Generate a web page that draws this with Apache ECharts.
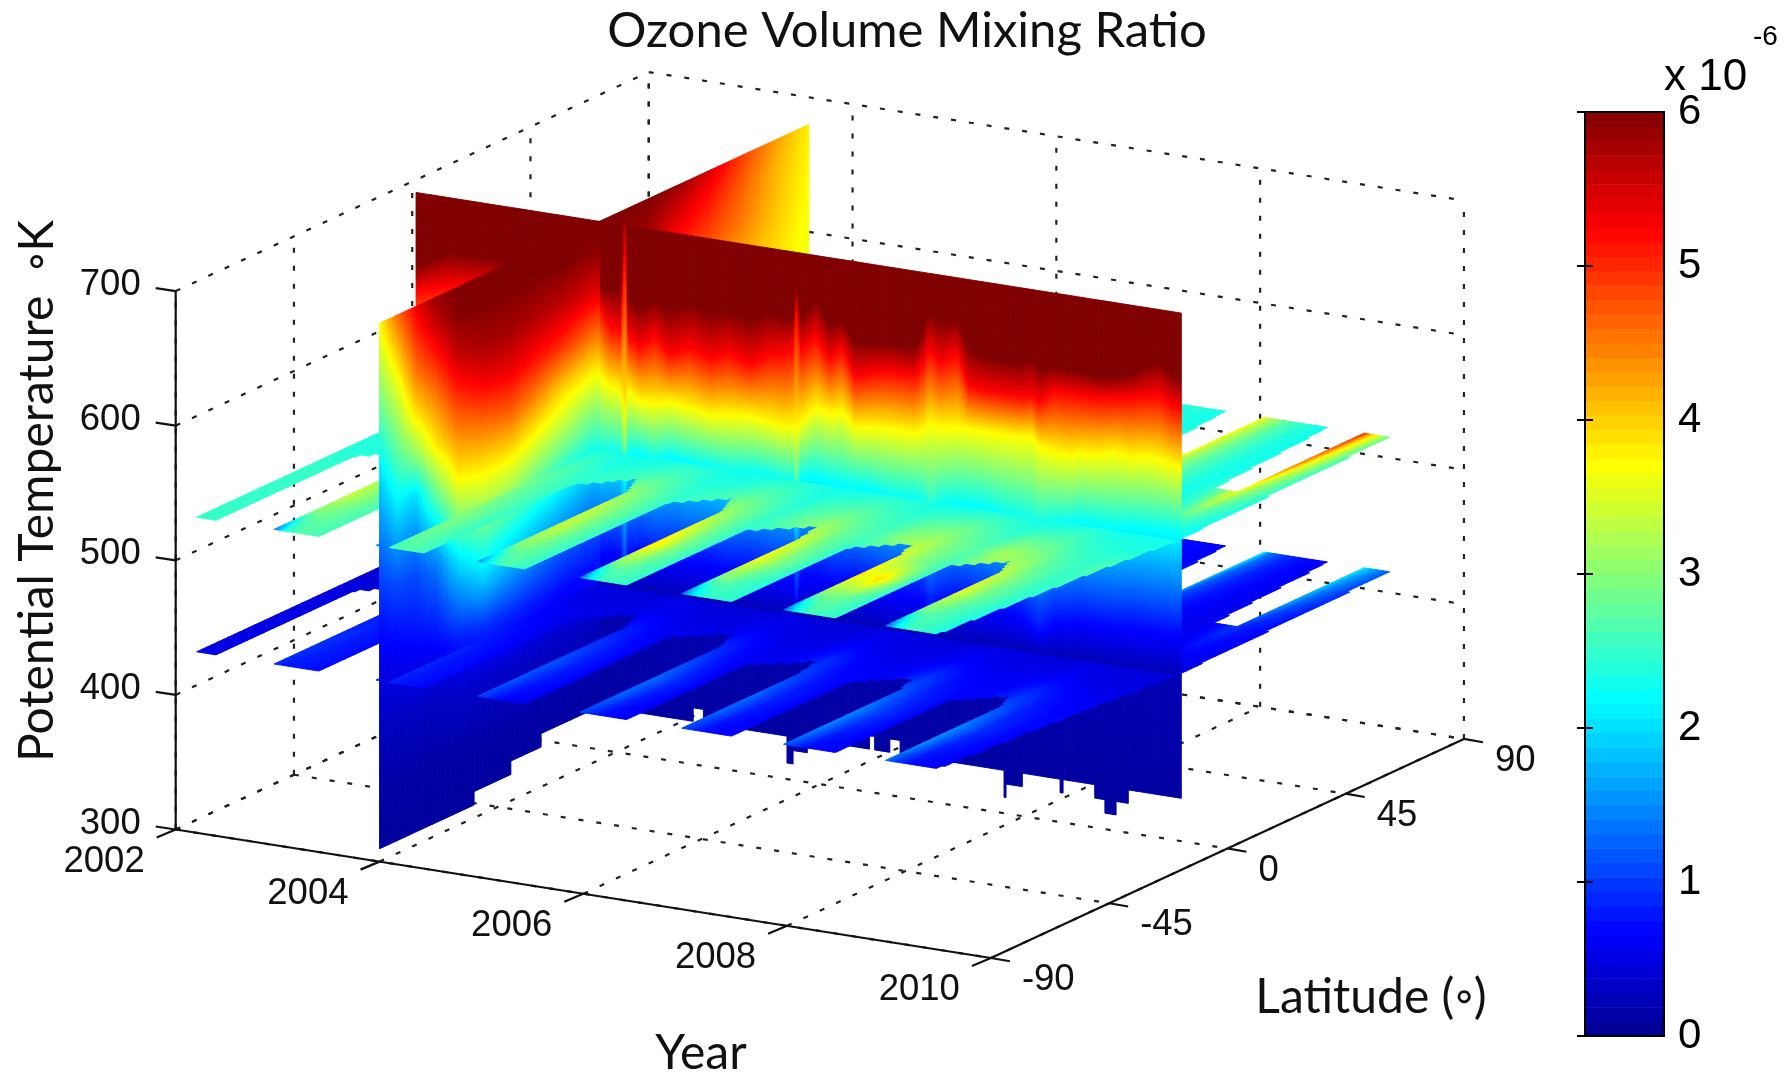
<!DOCTYPE html>
<html><head><meta charset="utf-8">
<style>html,body{margin:0;padding:0;background:#fff}#c{width:1789px;height:1075px}</style>
<script src="https://cdn.jsdelivr.net/npm/echarts@6/dist/echarts.min.js"></script>
</head><body><div id="c"></div>
<script>
// ---------- tick labels ----------
const yearTicks = [2002, 2004, 2006, 2008, 2010];
const latTicks = [-90, -45, 0, 45, 90];
const tempTicks = [300, 400, 500, 600, 700];
const colorbarLevels = 64;

// ---------- slice positions ----------
const wallLat = -6.3;          // constant-latitude slice
const sliceYear = 2004;        // constant-year slice
const planeTemps = [430, 530]; // constant-temperature slices

// ---------- constant-latitude slice: height (K) of each ozone level, per year ----------
const wallYears = [2002.2,2002.53,2003.02,2003.61,2004,2004.1,2004.22,2004.25,2004.28,2004.4,2004.55,2004.69,2004.89,2005.09,2005.28,2005.48,2005.67,2005.82,2005.91,2005.94,2005.97,2006.13,2006.26,2006.39,2006.51,2006.66,2006.85,2007.1,2007.2,2007.24,2007.34,2007.52,2007.62,2007.78,2007.93,2008.13,2008.25,2008.32,2008.47,2008.61,2008.72,2008.91,2009.06,2009.21,2009.35,2009.5,2009.6,2009.71];
const wallAt075 = [455,455,455,455,455,458,458,425,458,462,460,462,460,462,460,462,460,460,460,435,462,466,464,464,466,464,462,462,460,452,460,464,464,462,460,460,452,448,458,460,462,462,462,464,464,464,464,464];
const wallAt225 = [530,530,530,530,527,530,530,510,532,534,530,535,533,532,530,532,532,530,530,510,535,538,536,535,535,535,532,532,530,520,530,535,535,535,532,530,528,525,530,532,535,535,535,537,538,538,538,538];
const wallAt375 = [575,580,585,585,586,580,578,555,578,572,572,575,573,570,572,574,572,570,572,570,575,588,585,588,578,580,581,581,585,590,588,590,590,590,590,590,592,585,583,582,585,586,590,588,590,590,588,586];
const wallAt525 = [628,635,640,640,638,625,622,700,620,612,622,610,618,612,618,612,622,625,630,665,628,640,625,635,615,620,623,623,635,645,635,644,622,620,620,620,622,618,628,628,628,628,630,632,635,637,632,630];
const wallAt600 = [645,660,660,655,650,652,650,740,648,640,648,642,650,645,648,645,652,650,652,680,650,668,650,655,640,642,643,643,660,672,665,669,650,645,644,644,650,642,645,645,645,643,645,648,655,662,655,650];
const wallBaseTemps = [300, 430];
const wallBaseValues = [0.06, 0.22];
// lowest valid level of the slice, between these years
const wallFloorYears = [2002.2,2004.92,2005.02,2005.84,2005.9,2006.04,2006.65,2006.7,2006.85,2006.95,2007.97,2007.99,2008.15,2008.52,2008.55,2008.86,2008.96,2009.07,2009.19,2009.71];
const wallFloorTemps = [339.5,349.5,339.5,319.5,329.5,339.5,349.5,339.5,349.5,339.5,319.5,329.5,339.5,329.5,339.5,329.5,319.5,329.5,339.5];

// ---------- constant-year slice: ozone per latitude (columns) and level ----------
const sliceLats = [-90,-83,-76,-68,-60,-50,-40,-30,-20,-10,0,12,24,36,48,60,73.4];
const sliceTemps = [700,680,650,620,590,560,530,500,470,440,400,350,310];
const sliceOzone = [
 [3.7,3.4,3.0,2.5,2.0,1.6,1.25,.95,.7,.5,.3,.12,.08],
 [4.6,4.2,3.6,3.1,2.6,2.1,1.6,1.1,.8,.55,.3,.12,.08],
 [5.3,5.0,4.5,3.85,3.05,2.0,1.5,1.1,.85,.6,.3,.12,.08],
 [5.9,5.6,5.0,4.4,3.85,3.0,2.1,1.4,1.0,.65,.3,.12,.08],
 [6,6,5.6,5,4.4,3.8,3.0,2.1,1.45,.85,.35,.12,.08],
 [6,6,5.8,5.3,4.6,3.9,3.2,2.5,1.8,.95,.35,.12,.08],
 [6,6,5.8,5.35,4.7,3.9,3.1,2.25,1.6,.9,.35,.12,.08],
 [6,6,5.7,5.15,4.4,3.6,2.75,2.0,1.4,.8,.3,.12,.08],
 [6,6,5.6,4.95,4.0,3.3,2.45,1.8,1.2,.7,.3,.12,.08],
 [6,5.95,5.45,4.65,3.8,3.0,2.25,1.6,1.1,.65,.28,.12,.08],
 [6,5.9,5.4,4.6,3.75,3.0,2.25,1.6,1.1,.65,.28,.12,.08],
 [6,5.85,5.45,4.7,3.8,3.0,2.3,1.6,1.1,.65,.28,.12,.08],
 [5.85,5.45,5.05,4.6,3.9,3.1,2.3,1.6,1.1,.65,.28,.12,.08],
 [5.45,5.15,4.8,4.4,3.9,3.1,2.3,1.6,1.1,.65,.28,.12,.08],
 [4.9,4.7,4.5,4.2,3.85,3.1,2.3,1.6,1.1,.65,.28,.12,.08],
 [4.35,4.2,4.1,3.95,3.8,3.1,2.3,1.6,1.1,.65,.28,.12,.08],
 [3.8,3.75,3.7,3.65,3.55,3.0,2.3,1.6,1.1,.65,.28,.12,.08]
];
const sliceFloorLats = [-90,-54,-40,-28.5,73.4];
const sliceFloorTemps = [309.5,319.5,329.5,339.5];

// ---------- constant-temperature slices, south of the wall ----------
const planeYears = [2002.11,2002.3,2002.6,
 2002.87,2002.97,2003.1,2003.33,2003.6, 2003.87,2003.97,2004.1,2004.34,2004.6,
 2004.87,2004.97,2005.1,2005.33,2005.6, 2005.87,2005.97,2006.1,2006.33,2006.6,
 2006.87,2006.97,2007.1,2007.36,2007.6, 2007.87,2007.97,2008.1,2008.36,2008.6,
 2008.87,2008.97,2009.1,2009.38,2009.66];
const southLats = [-86.3,-72,-58,-44,-30,-18,wallLat];
const upperSouth = [
 [2.5,2.5,2.5, 1.2,2.3,2.7,2.6,2.5, 1.3,2.4,2.7,2.6,2.5, 1.3,2.2,2.7,2.5,2.4, 1.2,2.1,2.6,2.5,2.4, 1.2,2.0,2.5,2.5,2.4, 1.1,2.1,2.6,2.5,2.4, 1.1,2.1,2.6,2.4,2.3],
 [2.5,2.5,2.5, 2.9,2.9,2.8,2.6,2.5, 2.6,2.8,2.8,2.5,2.4, 2.9,3.0,2.8,2.5,2.4, 3.0,3.1,2.8,2.5,2.4, 2.9,3.0,2.7,2.4,2.4, 3.0,3.0,2.9,2.5,2.4, 2.9,2.9,2.7,2.4,2.3],
 [2.5,2.5,2.5, 3.4,3.2,2.9,2.6,2.5, 3.0,3.0,2.9,2.5,2.4, 3.3,3.3,2.9,2.5,2.4, 3.9,3.6,3.0,2.5,2.4, 3.7,3.4,3.0,2.5,2.4, 3.9,3.6,3.95,2.6,2.5, 3.6,3.3,2.9,2.5,2.4],
 [2.5,2.5,2.5, 3.2,3.1,2.9,2.6,2.5, 3.1,3.0,2.8,2.5,2.5, 3.4,3.2,2.9,2.5,2.5, 3.6,3.3,2.9,2.5,2.6, 3.5,3.3,2.9,2.5,2.7, 3.6,3.3,3.0,2.6,3.0, 3.4,3.2,2.9,2.5,2.6],
 [2.4,2.4,2.4, 3.0,3.0,2.8,2.5,2.6, 3.0,2.9,2.7,2.5,2.6, 3.1,3.0,2.8,2.5,2.7, 3.1,3.0,2.8,2.5,2.8, 3.1,3.0,2.8,2.6,3.0, 3.2,3.1,2.9,2.7,3.2, 3.0,2.9,2.7,2.5,2.8],
 [2.4,2.4,2.4, 2.7,2.7,2.6,2.5,2.6, 2.7,2.6,2.6,2.4,2.5, 2.7,2.7,2.6,2.4,2.5, 2.7,2.7,2.6,2.4,2.6, 2.7,2.7,2.6,2.5,2.7, 2.8,2.8,2.7,2.5,2.7, 2.7,2.6,2.5,2.4,2.4],
 [2.3,2.3,2.3, 2.4,2.4,2.4,2.3,2.3, 2.4,2.4,2.4,2.3,2.3, 2.4,2.4,2.4,2.3,2.3, 2.4,2.4,2.4,2.3,2.3, 2.4,2.4,2.4,2.3,2.3, 2.4,2.4,2.4,2.3,2.3, 2.4,2.4,2.3,2.3,2.3]
];
const lowerSouth = [
 [.5,.5,.5, .9,.8,.8,.7,.6, 1.0,.9,.8,.7,.6, 1.1,.9,.7,.6,.6, 1.1,.9,.7,.6,.6, 1.1,.9,.7,.6,.6, 1.2,1.0,.7,.6,.6, 1.3,1.0,.7,.6,.6],
 [.5,.5,.5, .95,.9,.8,.7,.6, 1.0,.95,.8,.7,.6, 1.2,1.0,.8,.65,.6, 1.3,1.1,.8,.65,.6, 1.3,1.1,.8,.65,.6, 1.5,1.2,.85,.65,.6, 1.6,1.2,.85,.65,.6],
 [.5,.5,.5, .9,.9,.8,.7,.6, .9,.9,.8,.65,.6, 1.2,1.05,.85,.65,.6, 1.3,1.15,.9,.65,.6, 1.3,1.1,.85,.65,.6, 1.5,1.25,1.0,.7,.6, 1.5,1.3,.95,.7,.6],
 [.5,.5,.5, .8,.8,.75,.65,.6, .8,.8,.75,.6,.6, 1.0,.95,.8,.6,.6, 1.1,1.0,.8,.6,.6, 1.1,1.0,.8,.65,.65, 1.2,1.1,.9,.7,.7, 1.2,1.1,.85,.7,.7],
 [.45,.45,.45, .7,.7,.65,.6,.55, .7,.7,.65,.55,.55, .8,.8,.7,.55,.6, .85,.8,.7,.55,.6, .9,.85,.7,.6,.6, .95,.9,.75,.65,.65, .9,.85,.75,.6,.6],
 [.4,.4,.4, .55,.55,.55,.5,.5, .55,.55,.55,.5,.5, .6,.6,.55,.5,.5, .6,.6,.55,.5,.5, .65,.6,.55,.5,.55, .65,.65,.6,.55,.55, .65,.6,.55,.5,.5],
 [.4,.4,.4, .45,.45,.45,.45,.45, .45,.45,.45,.45,.45, .5,.5,.45,.45,.45, .5,.5,.45,.45,.45, .5,.5,.5,.45,.45, .5,.5,.5,.45,.45, .5,.5,.45,.45,.45]
];

// ---------- constant-temperature slices, north of the wall ----------
const northYears = [2007.54,2007.75,2007.97,2008.35,2008.42,2008.6,2008.8,2008.97,2009.15,2009.33,2009.42,2009.58,2009.66];
const northLats = [wallLat,10,30,50,78];
const upperNorth = [
 [2.4,2.4,2.4,2.6,2.5,2.4,2.3,2.3,2.3,2.4,2.3,2.25,2.2],
 [2.5,2.4,2.4,3.0,2.8,2.6,2.4,2.3,2.4,2.8,2.6,2.4,2.25],
 [2.5,2.4,2.4,3.4,3.0,2.7,2.4,2.3,2.6,3.6,3.0,2.6,2.3],
 [2.4,2.3,2.3,3.75,3.2,2.7,2.4,2.3,2.3,4.5,3.5,2.7,2.4],
 [2.4,2.4,2.3,3.7,3.3,2.7,2.4,2.3,2.3,5.1,4.0,2.8,2.5]
];
const lowerNorth = [
 [.6,.55,.55,.65,.6,.6,.55,.55,.55,.6,.55,.5,.5],
 [.6,.6,.55,.8,.7,.65,.6,.55,.55,.7,.65,.6,.55],
 [.65,.6,.6,1.1,.85,.7,.6,.55,.65,1.0,.8,.7,.65],
 [.7,.65,.6,1.6,1.1,.8,.65,.6,.6,1.7,1.2,.9,.8],
 [.75,.7,.65,2.2,1.4,.9,.7,.6,.6,2.1,1.7,1.2,1.0]
];

// ---------- where the temperature slices have no data ----------
const southGapFrom = [2002.3,2003.31,2004.34,2005.33,2006.33,2007.36,2008.38];
const southGapTo = [2002.87,2003.87,2004.87,2005.87,2006.87,2007.87,2008.87];
const southGapCloseYear = [2002.7,2003.7,2004.73,2005.72,2006.8,2007.78,2008.77];
const southGapCloseLat = [-25,-25,-20.6,-23,-32,-33,-34.4];
const northGapFrom = [2007.97,2008.97];
const northGapFromAtClose = [2008.1,2009.1];
const northGapTo = [2008.35,2009.33];
const northGapCloseLat = [30,30];
const planeStartYear = 2002.11;
const planeEndLats = [-86.3,-58,-30,wallLat,78];
const planeEndYears = [2009.38,2009.46,2009.56,2009.66,2009.58];

// ---------- view of the 3-D box ----------
const VIEW = {x0:175.7, y0:829.5, yearX:101.9, yearY:16.06, latX:2.628, latY:-1.217, tempY:1.346};
function project(year, lat, temp){
  return [VIEW.x0 + (year-2002)*VIEW.yearX + (lat+90)*VIEW.latX,
          VIEW.y0 + (year-2002)*VIEW.yearY + (lat+90)*VIEW.latY - (temp-300)*VIEW.tempY];
}

// ---------- lookups ----------
function locate(xs, x){
  let i = 0;
  if (x <= xs[0]) return [0, 0];
  if (x >= xs[xs.length-1]) return [xs.length-2, 1];
  while (x > xs[i+1]) i++;
  return [i, (x-xs[i])/(xs[i+1]-xs[i])];
}
function line(xs, ys, x){ const [i,t] = locate(xs,x); return ys[i]*(1-t)+ys[i+1]*t; }
function table(rowsAxis, colsAxis, rows, r, c){
  const [i,t] = locate(rowsAxis,r), [j,u] = locate(colsAxis,c);
  return (rows[i][j]*(1-u)+rows[i][j+1]*u)*(1-t) + (rows[i+1][j]*(1-u)+rows[i+1][j+1]*u)*t;
}
function step(xs, ys, x){
  for (let i=0;i<ys.length;i++) if (x < xs[i+1]) return ys[i];
  return ys[ys.length-1];
}
function wallValue(year, temp){
  const h = [wallBaseTemps[0], wallBaseTemps[1], line(wallYears,wallAt075,year), line(wallYears,wallAt225,year),
             line(wallYears,wallAt375,year), line(wallYears,wallAt525,year), line(wallYears,wallAt600,year)];
  const v = [wallBaseValues[0], wallBaseValues[1], .75, 2.25, 3.75, 5.25, 6];
  return line(h, v, temp);
}
const sliceTempsUp = sliceTemps.slice().reverse();
const sliceRowsUp = sliceOzone.map(c => c.slice().reverse());
function sliceValue(lat, temp){ return table(sliceLats, sliceTempsUp, sliceRowsUp, lat, temp); }
function inGap(year, lat){
  if (lat > planeEndLats[4] || lat < planeEndLats[0] || year < planeStartYear) return true;
  if (year > line(planeEndLats, planeEndYears, lat)) return true;
  for (let k=0;k<southGapFrom.length;k++){
    const c = southGapCloseLat[k];
    if (lat < c){
      let lo = southGapFrom[k], hi = southGapTo[k];
      if (lat > c-9){ const t = (lat-(c-9))/9; lo += (southGapCloseYear[k]-lo)*t; hi += (southGapCloseYear[k]-hi)*t; }
      if (year > lo && year < hi) return true;
    }
  }
  for (let k=0;k<northGapFrom.length;k++){
    const c = northGapCloseLat[k];
    if (lat > c){
      const lo = northGapFromAtClose[k] + (northGapFrom[k]-northGapFromAtClose[k])*(lat-c)/(78-c);
      if (year > lo && year < northGapTo[k]) return true;
    }
  }
  return false;
}

// ---------- shading: split every slice into small facets ----------
function gridLines(from, to, size, must){
  const out = must.filter(v => v>=from && v<=to).concat([from,to]);
  for (let v=from; v<to; v+=size) if (!must.some(m => Math.abs(m-v) < size*0.3)) out.push(v);
  return Array.from(new Set(out)).sort((a,b)=>a-b);
}
const facets = [];
function region(v, planes){
  let r = 0;
  for (const p of planes){ if (v===p) return r+1; if (v>p) r+=2; else return r; }
  return r;
}
function addFacet(value, corners, year, lat, temp){
  const latR = 2 - region(lat,[wallLat]);
  const yearR = region(year,[sliceYear]);
  const tempR = region(temp,planeTemps);
  const pts = corners.map(c => project(c[0],c[1],c[2]));
  facets.push({key: latR*100 + yearR*10 + tempR, row: [Math.max(0,Math.min(6,value)),
    pts[0][0],pts[0][1],pts[1][0],pts[1][1],pts[2][0],pts[2][1],pts[3][0],pts[3][1]]});
}
const wallEndX = project(wallYears[wallYears.length-1], wallLat, 700)[0];
function wallTopAtX(x){ return line([project(wallYears[0],wallLat,700)[0],wallEndX],
   [project(wallYears[0],wallLat,700)[1],project(wallYears[wallYears.length-1],wallLat,700)[1]],x); }

// wall
{
  const ys = gridLines(wallYears[0], wallYears[wallYears.length-1], .03, wallYears.concat(wallFloorYears,[sliceYear]));
  const zLow = gridLines(309.5, 429.5, 5, [319.5,329.5,339.5,349.5]);
  const zHigh = gridLines(430, 700, 2.5, [430,530]);
  const zs = zLow.concat(zHigh);
  for (let i=0;i<ys.length-1;i++) for (let j=0;j<zs.length-1;j++){
    const y=(ys[i]+ys[i+1])/2, z=(zs[j]+zs[j+1])/2;
    if (z < step(wallFloorYears,wallFloorTemps,y)) continue;
    if (y < sliceYear && z < 600) continue; // behind the year slice
    addFacet(wallValue(y,z), [[ys[i],wallLat,zs[j]],[ys[i+1],wallLat,zs[j]],[ys[i+1],wallLat,zs[j+1]],[ys[i],wallLat,zs[j+1]]], y, wallLat, z);
  }
}
// year slice
{
  const ls = gridLines(sliceLats[0], sliceLats[sliceLats.length-1], 1.25, sliceFloorLats.concat([wallLat]));
  const zLow = gridLines(309.5, 429.5, 5, [319.5,329.5,339.5]);
  const zHigh = gridLines(430, 700, 2.5, [430,530]);
  const zs = zLow.concat(zHigh);
  for (let i=0;i<ls.length-1;i++) for (let j=0;j<zs.length-1;j++){
    const l=(ls[i]+ls[i+1])/2, z=(zs[j]+zs[j+1])/2;
    if (z < step(sliceFloorLats,sliceFloorTemps,l)) continue;
    if (l > wallLat){ const p = project(sliceYear,l,z); if (p[1] > wallTopAtX(p[0])+10) continue; }
    addFacet(sliceValue(l,z), [[sliceYear,ls[i],zs[j]],[sliceYear,ls[i+1],zs[j]],[sliceYear,ls[i+1],zs[j+1]],[sliceYear,ls[i],zs[j+1]]], sliceYear, l, z);
  }
}
// temperature slices
[[planeTemps[0],lowerSouth,lowerNorth],[planeTemps[1],upperSouth,upperNorth]].forEach(([temp,south,north]) => {
  const ys = gridLines(planeStartYear, planeYears[planeYears.length-1], .03,
     southGapFrom.concat(southGapTo,northGapTo,northGapFrom,[sliceYear]));
  const ls = gridLines(planeEndLats[0], planeEndLats[4], 2, [wallLat]);
  for (let i=0;i<ys.length-1;i++) for (let j=0;j<ls.length-1;j++){
    const y=(ys[i]+ys[i+1])/2, l=(ls[j]+ls[j+1])/2;
    if (inGap(y,l)) continue;
    const p = project(y,l,temp);
    if (l > wallLat && p[0] < wallEndX-4) continue;                       // behind the wall
    if (l < wallLat && y < sliceYear && p[0] > project(sliceYear,-90,temp)[0]+4) continue; // behind the year slice
    const v = l < wallLat ? table(southLats,planeYears,south,l,y) : table(northLats,northYears,north,l,y);
    addFacet(v, [[ys[i],ls[j],temp],[ys[i+1],ls[j],temp],[ys[i+1],ls[j+1],temp],[ys[i],ls[j+1],temp]], y, l, temp);
  }
});
facets.sort((a,b)=>a.key-b.key);
const facetRows = facets.map(f=>f.row);

// ---------- box: dotted grid, axes, ticks ----------
const gridRows = [];
function seg(list,a,b){ const p=project(a[0],a[1],a[2]), q=project(b[0],b[1],b[2]); list.push([p[0],p[1],q[0],q[1]]); }
const yMin=yearTicks[0], yMax=yearTicks[4], lMin=latTicks[0], lMax=latTicks[4], tMin=tempTicks[0], tMax=tempTicks[4];
yearTicks.forEach(y=>{ seg(gridRows,[y,lMin,tMin],[y,lMax,tMin]); seg(gridRows,[y,lMax,tMin],[y,lMax,tMax]); });
latTicks.forEach(l=>{ seg(gridRows,[yMin,l,tMin],[yMax,l,tMin]); seg(gridRows,[yMin,l,tMin],[yMin,l,tMax]); });
tempTicks.forEach(t=>{ seg(gridRows,[yMin,lMin,t],[yMin,lMax,t]); seg(gridRows,[yMin,lMax,t],[yMax,lMax,t]); });
const axisRows = [];
seg(axisRows,[yMin,lMin,tMin],[yMin,lMin,tMax]);
seg(axisRows,[yMin,lMin,tMin],[yMax,lMin,tMin]);
seg(axisRows,[yMax,lMin,tMin],[yMax,lMax,tMin]);
const TICK = {temp:[-20,-3], year:[-19,8], lat:[19,3.3]};
const labelRows = [], labelTexts = [], labelAligns = [];
tempTicks.forEach(t=>{ const p=project(yMin,lMin,t); axisRows.push([p[0],p[1],p[0]+TICK.temp[0],p[1]+TICK.temp[1]]);
  labelRows.push([p[0]-35,p[1]-6]); labelTexts.push(String(t)); labelAligns.push('right'); });
yearTicks.forEach(y=>{ const p=project(y,lMin,tMin); axisRows.push([p[0],p[1],p[0]+TICK.year[0],p[1]+TICK.year[1]]);
  labelRows.push([p[0]-31,p[1]+32]); labelTexts.push(String(y)); labelAligns.push('right'); });
latTicks.forEach(l=>{ const p=project(yMax,l,tMin); axisRows.push([p[0],p[1],p[0]+TICK.lat[0],p[1]+TICK.lat[1]]);
  labelRows.push([p[0]+31,p[1]+22]); labelTexts.push(String(l)); labelAligns.push('left'); });

// ---------- colour map (jet) ----------
const jetStops = [[0,0,0,143],[.111,0,0,255],[.365,0,255,255],[.619,255,255,0],[.873,255,0,0],[1,128,0,0]];
const jetColors = [];
for (let i=0;i<colorbarLevels;i++){
  const t=i/(colorbarLevels-1), k=locate(jetStops.map(s=>s[0]),t);
  const c=[1,2,3].map(n=>Math.round(jetStops[k[0]][n]*(1-k[1])+jetStops[k[0]+1][n]*k[1]));
  jetColors.push('rgb('+c.join(',')+')');
}
const barRows = [];
for (let i=0;i<colorbarLevels;i++) barRows.push([(i+.5)*6/colorbarLevels, i*6/colorbarLevels, (i+1)*6/colorbarLevels]);

const SANS = 'Lato', TICKFONT = '"Liberation Sans"';
const chart = echarts.init(document.getElementById('c'), null, {renderer:'canvas'});
const hiddenAxis = {show:false};
chart.setOption({
  animation:false,
  backgroundColor:'#fff',
  title:{text:'Ozone Volume Mixing Ratio', left:902, top:2, textAlign:'center',
    textStyle:{fontFamily:SANS, fontWeight:400, fontSize:49, color:'#111'}},
  grid:[
    {left:0, top:0, width:1789, height:1075, show:false},
    {left:1585, top:112, width:79, height:924, show:true, borderColor:'#000', borderWidth:2, backgroundColor:'transparent', z:5}
  ],
  xAxis:[
    Object.assign({type:'value',min:0,max:1789,gridIndex:0},hiddenAxis),
    Object.assign({type:'value',min:0,max:1,gridIndex:1},hiddenAxis)
  ],
  yAxis:[
    Object.assign({type:'value',min:0,max:1075,inverse:true,gridIndex:0},hiddenAxis),
    {type:'value',min:0,max:6,interval:1,gridIndex:1,position:'right',z:6,
      axisLine:{show:true,lineStyle:{color:'#000',width:2}},
      axisTick:{show:true,inside:true,length:8,lineStyle:{color:'#000',width:2}},
      splitLine:{show:false},
      axisLabel:{show:true,margin:14,color:'#000',fontFamily:TICKFONT,fontSize:42,padding:[5,0,0,0]}},
    {type:'value',min:0,max:6,interval:1,gridIndex:1,position:'left',z:6,
      axisLine:{show:true,lineStyle:{color:'#000',width:2}},
      axisTick:{show:true,inside:true,length:8,lineStyle:{color:'#000',width:2}},
      splitLine:{show:false},axisLabel:{show:false}}
  ],
  visualMap:[{type:'continuous',show:false,min:0,max:6,dimension:0,seriesIndex:[1,4],inRange:{color:jetColors}}],
  series:[
    {type:'custom',name:'grid',coordinateSystem:'cartesian2d',xAxisIndex:0,yAxisIndex:0,clip:false,silent:true,z:1,
      data:gridRows,encode:{x:[0,2],y:[1,3]},progressive:0,
      renderItem(p,api){const a=api.coord([api.value(0),api.value(1)]),b=api.coord([api.value(2),api.value(3)]);
        return {type:'line',shape:{x1:a[0],y1:a[1],x2:b[0],y2:b[1]},style:{stroke:'#222',lineWidth:2.2,lineDash:[5,13],fill:null}};}},
    {type:'custom',name:'Ozone',coordinateSystem:'cartesian2d',xAxisIndex:0,yAxisIndex:0,clip:false,silent:true,z:2,
      data:facetRows,encode:{x:1,y:2},progressive:0,large:false,
      renderItem(p,api){
        const pts=[1,3,5,7].map(i=>api.coord([api.value(i),api.value(i+1)]));
        const c=api.visual('color');
        return {type:'polygon',shape:{points:pts},style:{fill:c,stroke:c,lineWidth:.9}};
      }},
    {type:'custom',name:'axes',coordinateSystem:'cartesian2d',xAxisIndex:0,yAxisIndex:0,clip:false,silent:true,z:3,
      data:axisRows,encode:{x:[0,2],y:[1,3]},progressive:0,
      renderItem(p,api){const a=api.coord([api.value(0),api.value(1)]),b=api.coord([api.value(2),api.value(3)]);
        return {type:'line',shape:{x1:a[0],y1:a[1],x2:b[0],y2:b[1]},style:{stroke:'#111',lineWidth:2.2,fill:null}};}},
    {type:'custom',name:'tick labels',coordinateSystem:'cartesian2d',xAxisIndex:0,yAxisIndex:0,clip:false,silent:true,z:3,
      data:labelRows,encode:{x:0,y:1},progressive:0,
      renderItem(p,api){const a=api.coord([api.value(0),api.value(1)]);
        return {type:'text',x:a[0],y:a[1],style:{text:labelTexts[p.dataIndex],align:labelAligns[p.dataIndex],verticalAlign:'middle',
          fontFamily:TICKFONT,fontSize:36.5,fill:'#111'}};}},
    {type:'custom',name:'colorbar',coordinateSystem:'cartesian2d',xAxisIndex:1,yAxisIndex:1,clip:false,silent:true,z:4,
      data:barRows,encode:{y:[1,2]},progressive:0,
      renderItem(p,api){const a=api.coord([0,api.value(2)]),b=api.coord([1,api.value(1)]);
        return {type:'rect',shape:{x:a[0],y:a[1],width:b[0]-a[0],height:b[1]-a[1]+.5},style:{fill:api.visual('color')}};}}
  ],
  graphic:[
    {type:'text',x:38,y:491,rotation:Math.PI/2,originX:0,originY:0,style:{text:'Potential Temperature  \u25E6K',align:'center',verticalAlign:'middle',fontFamily:SANS,fontSize:48,fill:'#111'}},
    {type:'text',x:701,y:1054,style:{text:'Year',align:'center',verticalAlign:'middle',fontFamily:SANS,fontSize:48,fill:'#111'}},
    {type:'text',x:1371,y:998,style:{text:'Latitude (\u25E6)',align:'center',verticalAlign:'middle',fontFamily:SANS,fontSize:48,fill:'#111'}},
    {type:'text',x:1664,y:78,style:{text:'x 10',align:'left',verticalAlign:'middle',fontFamily:TICKFONT,fontSize:44,fill:'#000'}},
    {type:'text',x:1753,y:37,style:{text:'-6',align:'left',verticalAlign:'middle',fontFamily:TICKFONT,fontSize:28,fill:'#000'}}
  ]
});
</script></body></html>
